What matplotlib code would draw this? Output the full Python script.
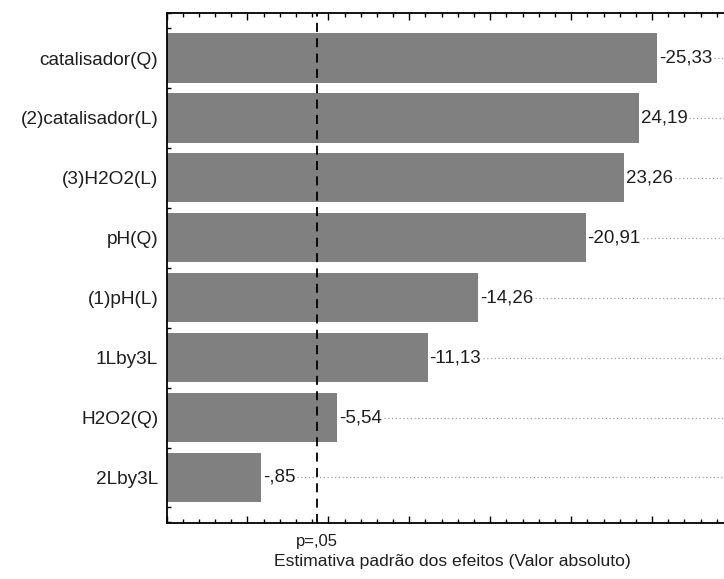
import matplotlib
matplotlib.use("Agg")
import matplotlib.pyplot as plt
from matplotlib.ticker import MultipleLocator, NullFormatter
from matplotlib.transforms import blended_transform_factory
import numpy as np

plt.rcParams['font.family'] = ['Liberation Sans', 'DejaVu Sans']

# Standardized effect estimates (t values), largest first
factors = ["catalisador(Q)", "(2)catalisador(L)", "(3)H2O2(L)", "pH(Q)",
           "(1)pH(L)", "1Lby3L", "H2O2(Q)", "2Lby3L"]
effects = [-25.33, 24.19, 23.26, -20.91, -14.26, -11.13, -5.54, -0.85]
p_label = "p=,05"
t_crit = 4.303
x_title = "Estimativa padrão dos efeitos (Valor absoluto)"

X_MIN, X_MAX = -5.0, 30.0


def fmt(v):
    s = f"{v:.2f}".replace(".", ",")
    s = s.replace("-0,", "-,")
    if s.startswith("0,"):
        s = s[1:]
    return s


W, H = 724, 579
fig = plt.figure(figsize=(W / 100, H / 100), dpi=100)
left, right, top, bottom = 166.5, 733.0, 12.5, 523.0
ax_h = bottom - top
ax = fig.add_axes([left / W, 1 - bottom / H, (right - left) / W, ax_h / H])

n = len(factors)
ypos = np.arange(n)[::-1]
mags = np.abs(effects)

ax.barh(ypos, mags - X_MIN, left=X_MIN, height=0.82, color="#808080",
        edgecolor="none", zorder=2)

ax.set_xlim(X_MIN, X_MAX)
ax.set_ylim(-0.76, n - 1 + 0.76)

ax.axvline(t_crit, color="black", lw=1.3, ls=(0, (5, 3.5)), zorder=4)

ax.set_yticks(ypos)
ax.set_yticklabels(factors, fontsize=13.7, color="#1e1e1e")
ax.yaxis.set_minor_locator(MultipleLocator(0.25))
ax.xaxis.set_major_locator(MultipleLocator(5))
ax.xaxis.set_minor_locator(MultipleLocator(1))
ax.xaxis.set_major_formatter(NullFormatter())
ax.tick_params(axis="x", which="both", direction="in", top=True, bottom=True,
               width=1.0, color="black")
ax.tick_params(axis="x", which="major", length=5)
ax.tick_params(axis="x", which="minor", length=3)
ax.tick_params(axis="y", which="major", direction="in", length=5, width=1.0,
               pad=6, left=True, right=False)
ax.tick_params(axis="y", which="minor", direction="in", length=3, width=1.0,
               left=True, right=False)

for s in ["left", "top", "bottom"]:
    ax.spines[s].set_linewidth(1.3)
    ax.spines[s].set_color("black")
ax.spines["right"].set_visible(False)

# value labels at the end of each bar, followed by a dotted guide line
texts = []
for y, v, m in zip(ypos, effects, mags):
    t = ax.text(m + 0.1, y, fmt(v), va="center", ha="left", fontsize=13.5,
                color="#1e1e1e", zorder=5)
    texts.append((t, y))

fig.canvas.draw()
renderer = fig.canvas.get_renderer()
inv = ax.transData.inverted()
for t, y in texts:
    bb = t.get_window_extent(renderer)
    x_end = inv.transform((bb.x1 + 2, 0))[0]
    ax.plot([x_end, X_MAX], [y, y], color="#a0a0a0", lw=0.9, ls=(0, (1, 2)),
            zorder=1)

# significance threshold label below the axis
trans = blended_transform_factory(ax.transData, ax.transAxes)
ax.text(t_crit, -11 / ax_h, p_label, transform=trans, ha="center", va="top",
        fontsize=12, color="#1e1e1e")

ax.set_xlabel(x_title, fontsize=12.6, color="#1e1e1e")
ax.xaxis.set_label_coords(0.505, -31 / ax_h)

fig.savefig("out.png", dpi=100, facecolor="white")
